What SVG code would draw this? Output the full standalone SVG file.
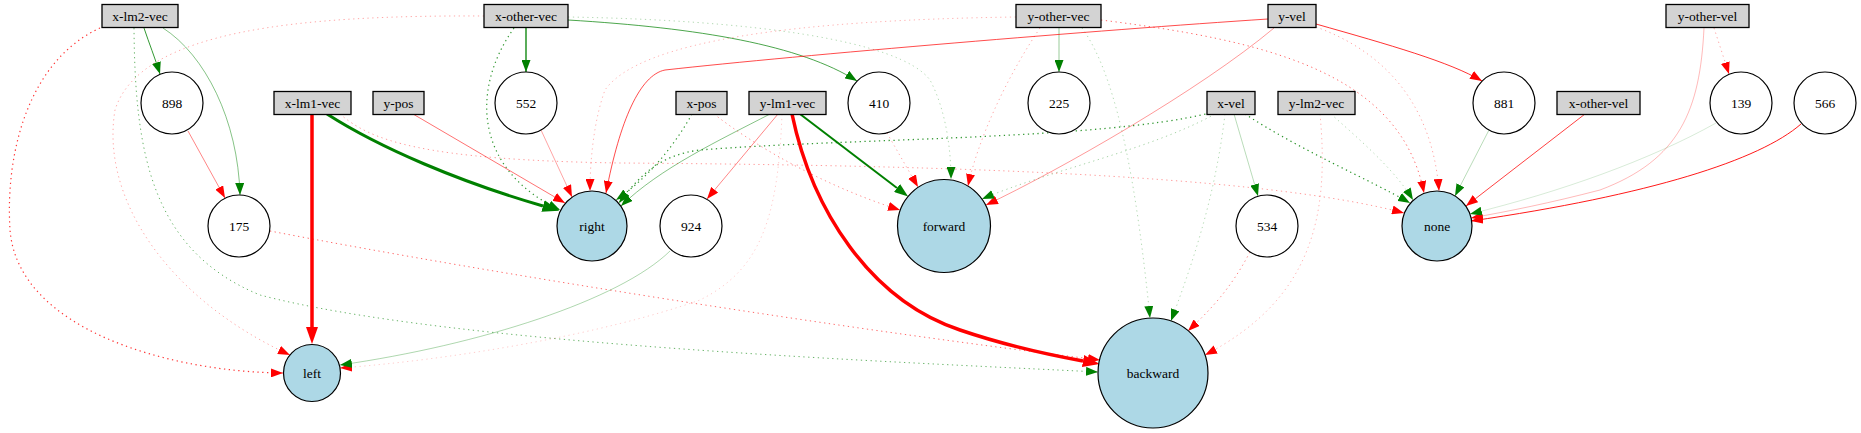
<svg xmlns="http://www.w3.org/2000/svg" width="1861" height="433" viewBox="0 0 1861 433">
<style>
.b{fill:#d3d3d3;stroke:#000;stroke-width:1.3}
.c{fill:#fff;stroke:#000;stroke-width:1.2}
.o{fill:#add8e6;stroke:#000;stroke-width:1.2}
text{font-family:"Liberation Serif","Times New Roman",serif;font-size:13.5px;text-anchor:middle;fill:#000}
#edges path{fill:none}
.r{stroke:#f00}
.g{stroke:#008000}
.d{stroke-dasharray:1.3 3.5}
.r.s{marker-end:url(#ar)}
.g.s{marker-end:url(#ag)}
</style>
<defs>
<marker id="ar" viewBox="0 0 12 9" refX="12" refY="4.5" markerWidth="12" markerHeight="9" markerUnits="userSpaceOnUse" orient="auto"><path d="M0,0L12,4.5L0,9z" fill="#f00"/></marker>
<marker id="ag" viewBox="0 0 12 9" refX="12" refY="4.5" markerWidth="12" markerHeight="9" markerUnits="userSpaceOnUse" orient="auto"><path d="M0,0L12,4.5L0,9z" fill="#008000"/></marker>
<marker id="arB" viewBox="0 0 17 12" refX="0" refY="6" markerWidth="17" markerHeight="12" markerUnits="userSpaceOnUse" orient="auto"><path d="M0,0L17,6L0,12z" fill="#f00"/></marker>
<marker id="agB" viewBox="0 0 17 12" refX="0" refY="6" markerWidth="17" markerHeight="12" markerUnits="userSpaceOnUse" orient="auto"><path d="M0,0L17,6L0,12z" fill="#008000"/></marker>
<marker id="agM" viewBox="0 0 14 10" refX="0" refY="5" markerWidth="14" markerHeight="10" markerUnits="userSpaceOnUse" orient="auto"><path d="M0,0L14,5L0,10z" fill="#008000"/></marker>
</defs>
<rect width="1861" height="433" fill="#fff"/>
<g id="edges">
<path class="g s" stroke-opacity="0.8" d="M144,28 C149,43 155,58 160,74"/>
<path class="g s" stroke-opacity="0.6" stroke-width="0.8" d="M163,28 C205,55 238,120 240,195"/>
<path class="r s d" stroke-opacity="0.8" stroke-width="1.2" d="M100,28 C30,60 5,150 10,230 C18,330 170,372 283,373"/>
<path class="r s d" stroke-opacity="0.35" d="M484,16 C300,15 140,30 115,110 C100,200 170,300 290,355"/>
<path class="g s d" stroke-opacity="0.6" d="M134,28 C135,150 150,250 260,295 C450,345 900,362 1098,372"/>
<path class="r s" stroke-opacity="0.6" stroke-width="0.8" d="M188,131 L225,198"/>
<path class="r s d" stroke-opacity="0.6" d="M270,231 C500,275 850,330 1100,360"/>
<path class="g s" stroke-width="1.3" d="M526,28 L526,72"/>
<path class="g s" stroke-opacity="0.7" d="M568,20 C700,28 800,45 857,81"/>
<path class="g s d" stroke-opacity="0.8" stroke-width="1.2" d="M514,28 C470,90 475,170 560,210"/>
<path class="g s d" stroke-opacity="0.3" d="M568,17 C750,20 900,40 930,80 C946,110 951,150 951,179"/>
<path class="g s" stroke-opacity="0.5" stroke-width="0.8" d="M1059,28 L1059,72"/>
<path class="r s d" stroke-opacity="0.3" d="M1016,17 C800,20 640,40 605,90 C594,120 590,160 590,191"/>
<path class="r s d" stroke-opacity="0.35" d="M1040,28 C1005,80 978,140 968,186"/>
<path class="g s d" stroke-opacity="0.3" d="M1082,28 C1120,80 1138,200 1150,318"/>
<path class="r s d" stroke-opacity="0.6" d="M1101,20 C1260,40 1400,70 1424,193"/>
<path class="r s" stroke-opacity="0.8" d="M1316,24 C1390,45 1450,62 1482,81"/>
<path class="r s" stroke-opacity="0.7" d="M1268,19 C1100,30 800,55 665,70 C640,75 620,120 606,193"/>
<path class="r s" stroke-opacity="0.5" stroke-width="0.8" d="M1274,28 C1200,90 1060,170 986,205"/>
<path class="r s d" stroke-opacity="0.35" d="M1316,27 C1380,50 1432,100 1439,191"/>
<path class="r s d" stroke-opacity="0.35" d="M1714,28 L1729,74"/>
<path class="r s" stroke-opacity="0.35" stroke-width="0.8" d="M1704,28 C1700,110 1680,160 1600,190 C1550,203 1510,211 1471,218"/>
<path class="g s" stroke-opacity="0.35" stroke-width="0.8" d="M1489,130 L1455,196"/>
<path class="r s" stroke-opacity="0.75" d="M1585,114 L1466,206"/>
<path class="g s" stroke-opacity="0.2" stroke-width="0.8" d="M1716,123 C1650,160 1560,192 1470,214"/>
<path class="r s" stroke-opacity="0.9" d="M1801,124 C1760,160 1650,195 1471,221"/>
<path class="g" stroke-width="3" marker-end="url(#agB)" d="M327,114 C380,148 460,182 543,206"/>
<path class="r" stroke-width="3.5" marker-end="url(#arB)" d="M312,114 L312,327"/>
<path class="r s" stroke-opacity="0.7" stroke-width="0.8" d="M413,114 L565,203"/>
<path class="r s" stroke-opacity="0.45" stroke-width="0.8" d="M541,130 L572,197"/>
<path class="g s d" stroke-opacity="0.8" stroke-width="1.2" d="M692,114 C672,150 645,180 616,200"/>
<path class="g s" stroke-opacity="0.6" stroke-width="0.8" d="M770,114 C720,140 660,168 621,206"/>
<path class="g s d" stroke-opacity="0.8" stroke-width="1.3" d="M1210,113 C1100,140 850,138 700,150 C660,155 640,175 619,203"/>
<path class="r s" stroke-opacity="0.6" stroke-width="0.8" d="M778,114 L707,199"/>
<path class="g" stroke-width="2" marker-end="url(#agM)" d="M800,114 L897,188"/>
<path class="r" stroke-width="3.5" marker-end="url(#arB)" d="M792,114 C812,210 870,300 960,330 C1010,347 1050,355 1083,361"/>
<path class="r s d" stroke-opacity="0.2" d="M782,114 C778,220 760,270 700,300 C600,335 450,360 340,368"/>
<path class="g s" stroke-opacity="0.4" stroke-width="0.8" d="M670,251 C620,300 480,345 340,365"/>
<path class="r s d" stroke-opacity="0.45" d="M714,114 C760,150 830,188 900,210"/>
<path class="r s d" stroke-opacity="0.35" d="M887,133 L918,187"/>
<path class="g s d" stroke-opacity="0.35" d="M1215,114 C1150,150 1050,170 982,199"/>
<path class="r s d" stroke-opacity="0.4" d="M340,114 C370,140 420,160 620,163 C900,165 1250,172 1404,213"/>
<path class="g s" stroke-opacity="0.35" stroke-width="0.8" d="M1234,114 L1258,196"/>
<path class="g s d" stroke-opacity="0.85" stroke-width="1.2" d="M1245,114 C1300,150 1370,180 1410,203"/>
<path class="g s d" stroke-opacity="0.3" d="M1225,114 C1215,200 1190,270 1171,321"/>
<path class="r s d" stroke-opacity="0.3" d="M1320,114 C1330,220 1310,300 1205,355"/>
<path class="g s d" stroke-opacity="0.3" d="M1331,114 C1360,140 1395,170 1413,200"/>
<path class="r s d" stroke-opacity="0.5" d="M1250,252 C1230,290 1210,310 1188,331"/>
</g>
<g id="n-x-lm2-vec"><rect class="b" x="102" y="4.5" width="76" height="23"/><text x="140" y="20.5">x-lm2-vec</text></g>
<g id="n-x-other-vec"><rect class="b" x="484" y="4.5" width="84" height="23"/><text x="526" y="20.5">x-other-vec</text></g>
<g id="n-y-other-vec"><rect class="b" x="1016" y="4.5" width="85" height="23"/><text x="1058.5" y="20.5">y-other-vec</text></g>
<g id="n-y-vel"><rect class="b" x="1268" y="4.5" width="48" height="23"/><text x="1292" y="20.5">y-vel</text></g>
<g id="n-y-other-vel"><rect class="b" x="1666" y="4.5" width="83" height="23"/><text x="1707.5" y="20.5">y-other-vel</text></g>
<g id="n-898"><circle class="c" cx="172" cy="103" r="31"/><text x="172" y="107.5">898</text></g>
<g id="n-x-lm1-vec"><rect class="b" x="274" y="91.5" width="77" height="23"/><text x="312.5" y="107.5">x-lm1-vec</text></g>
<g id="n-y-pos"><rect class="b" x="373" y="91.5" width="51" height="23"/><text x="398.5" y="107.5">y-pos</text></g>
<g id="n-552"><circle class="c" cx="526" cy="103" r="31"/><text x="526" y="107.5">552</text></g>
<g id="n-x-pos"><rect class="b" x="676" y="91.5" width="51" height="23"/><text x="701.5" y="107.5">x-pos</text></g>
<g id="n-y-lm1-vec"><rect class="b" x="749" y="91.5" width="77" height="23"/><text x="787.5" y="107.5">y-lm1-vec</text></g>
<g id="n-410"><circle class="c" cx="879" cy="103" r="31"/><text x="879" y="107.5">410</text></g>
<g id="n-225"><circle class="c" cx="1059" cy="103" r="31"/><text x="1059" y="107.5">225</text></g>
<g id="n-x-vel"><rect class="b" x="1207" y="91.5" width="48" height="23"/><text x="1231" y="107.5">x-vel</text></g>
<g id="n-y-lm2-vec"><rect class="b" x="1278" y="91.5" width="77" height="23"/><text x="1316.5" y="107.5">y-lm2-vec</text></g>
<g id="n-881"><circle class="c" cx="1504" cy="103" r="31"/><text x="1504" y="107.5">881</text></g>
<g id="n-x-other-vel"><rect class="b" x="1557" y="91.5" width="83" height="23"/><text x="1598.5" y="107.5">x-other-vel</text></g>
<g id="n-139"><circle class="c" cx="1741" cy="103" r="31"/><text x="1741" y="107.5">139</text></g>
<g id="n-566"><circle class="c" cx="1825" cy="103" r="31"/><text x="1825" y="107.5">566</text></g>
<g id="n-175"><circle class="c" cx="239" cy="226" r="31"/><text x="239" y="230.5">175</text></g>
<g id="n-right"><circle class="o" cx="592" cy="226" r="35"/><text x="592" y="230.5">right</text></g>
<g id="n-924"><circle class="c" cx="691" cy="226" r="31"/><text x="691" y="230.5">924</text></g>
<g id="n-forward"><circle class="o" cx="944" cy="226" r="46.5"/><text x="944" y="230.5">forward</text></g>
<g id="n-534"><circle class="c" cx="1267" cy="226" r="31"/><text x="1267" y="230.5">534</text></g>
<g id="n-none"><circle class="o" cx="1437" cy="226" r="35"/><text x="1437" y="230.5">none</text></g>
<g id="n-left"><circle class="o" cx="312" cy="373" r="28.5"/><text x="312" y="377.5">left</text></g>
<g id="n-backward"><circle class="o" cx="1153" cy="373" r="55"/><text x="1153" y="377.5">backward</text></g>
</svg>
